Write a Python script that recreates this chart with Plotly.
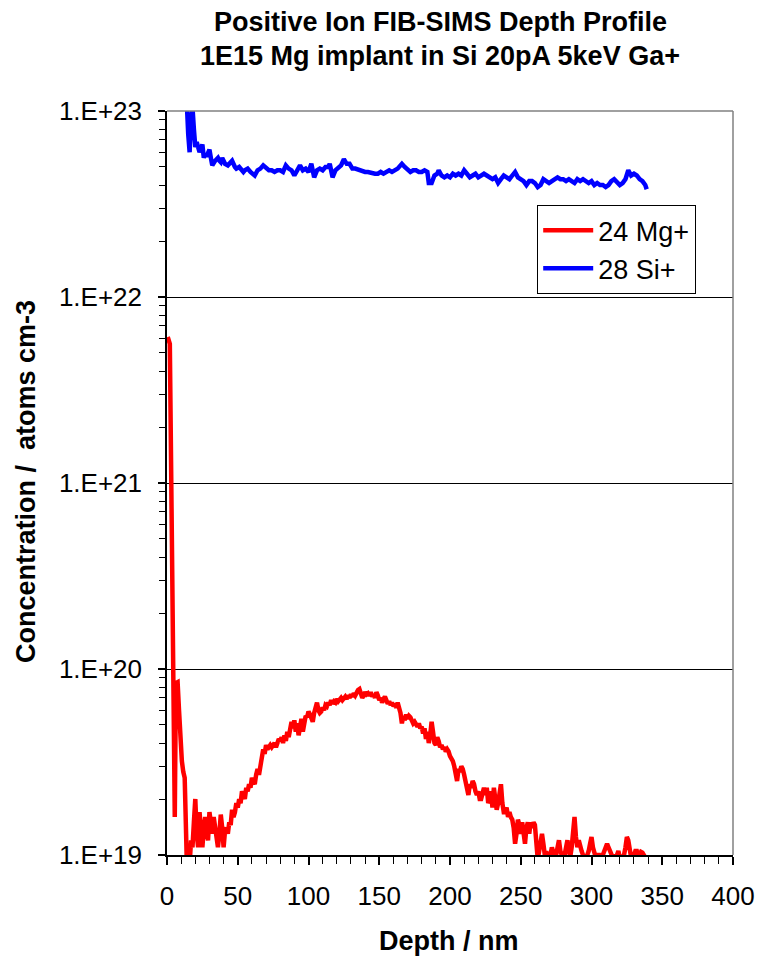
import plotly.graph_objects as go

# ---------------- data ----------------
depth_mg = [0.5, 2, 3, 4, 5, 5.5, 6.3, 7.5, 8.5, 9.5, 10.5, 11.5, 12.5, 13.5, 14,
            15, 16, 17, 18, 19, 20, 21, 22, 23, 24, 25, 26, 27, 28, 29, 30, 31, 32, 33, 34,
            35, 36, 37, 38, 39, 40, 41, 42, 43, 44, 45, 46, 47, 48, 49, 50, 51, 52, 53, 54,
            55, 56, 57, 58, 59, 60, 61, 62, 63, 64, 65, 66, 67, 68, 69, 70, 71, 72, 73, 74,
            75, 76, 77, 78, 79, 80, 81, 82, 83, 84, 85, 86, 87, 88, 89, 90, 91, 92, 93, 94,
            95, 96, 97, 98, 99, 100, 101, 102, 103, 104, 105, 106, 107, 108, 109, 110, 111, 112, 113, 114,
            115, 116, 117, 118, 119, 120, 121, 122, 123, 124, 125, 126, 127, 128, 129, 130, 131, 132, 133, 134,
            135, 136, 137, 138, 139, 140, 141, 142, 143, 144, 145, 146, 147, 148, 149, 150, 151, 152, 153, 154,
            155, 156, 157, 158, 159, 160, 161, 162, 163, 164, 165, 166, 167, 168, 169, 170, 171, 172, 173, 174,
            175, 176, 177, 178, 179, 180, 181, 182, 183, 184, 185, 186, 187, 188, 189, 190, 191, 192, 193, 194,
            195, 196, 197, 198, 199, 200, 201, 202, 203, 204, 205, 206, 207, 208, 209, 210, 211, 212, 213, 214,
            215, 216, 217, 218, 219, 220, 221, 222, 223, 224, 225, 226, 227, 228, 229, 230, 231, 232, 233, 234,
            235, 236, 237, 238, 239, 240, 241, 242, 243, 244, 245, 246, 247, 248, 249, 250, 251, 252, 253, 254,
            255, 256, 257, 258, 259, 260, 261, 262, 263, 264, 265, 266, 267, 268, 269, 270, 271, 272, 273, 274,
            275, 276, 277, 278, 279, 280, 281, 282, 283, 284, 285, 286, 287, 288, 289, 290, 291, 292, 293, 294,
            295, 296, 297, 298, 299, 300, 301, 302, 303, 304, 305, 306, 307, 308, 309, 310, 311, 312, 313, 314,
            315, 316, 317, 318, 319, 320, 321, 322, 323, 324, 325, 326, 327, 328, 329, 330, 331, 332, 333, 334,
            335, 336, 337, 338]

conc_mg = [6.1e21, 5.6e21, 1.05e21, 2.0e20, 3.7e19, 1.6e19, 8.4e19, 8.5e19, 6.0e19, 4.0e19, 3.2e19, 2.8e19, 2.6e19, 1.3e19, 0.9e19,
           1.1e19, 0.9e19, 1.2e19, 1.1e19, 1.5e19, 2.0e19, 1.3e19, 1.1e19, 1.7e19, 1.3e19, 1.1e19, 1.4e19, 1.6e19, 1.3e19, 1.2e19, 1.7e19, 1.4e19, 1.3e19, 1.6e19, 1.4e19,
           1.15e19, 1.1e19, 1.3e19, 1.65e19, 1.4e19, 1.1e19, 1.35e19, 1.4e19, 1.3e19, 1.5e19, 1.45e19, 1.75e19, 1.6e19, 1.7e19, 1.9e19, 1.8e19, 2.0e19, 1.9e19, 2.2e19, 2.1e19,
           2.0e19, 2.3e19, 2.2e19, 2.4e19, 2.3e19, 2.6e19, 2.5e19, 2.4e19, 2.7e19, 2.9e19, 2.7e19, 3.1e19, 3.3e19, 3.7e19, 3.5e19, 3.9e19, 3.7e19, 3.8e19, 3.9e19, 3.8e19,
           3.9e19, 4.0e19, 3.8e19, 4.0e19, 4.2e19, 4.1e19, 4.3e19, 4.0e19, 4.4e19, 4.1e19, 4.6e19, 4.3e19, 4.9e19, 5.2e19, 4.8e19, 5.3e19, 4.6e19, 5.1e19, 4.4e19, 5.0e19,
           5.4e19, 4.6e19, 5.3e19, 5.6e19, 5.5e19, 5.9e19, 5.7e19, 5.5e19, 5.2e19, 5.8e19, 6.1e19, 6.6e19, 6.0e19, 5.8e19, 5.9e19, 6.2e19, 6.0e19, 6.4e19, 6.3e19, 6.6e19,
           6.4e19, 6.8e19, 6.5e19, 6.7e19, 6.6e19, 6.9e19, 6.7e19, 6.8e19, 7.0e19, 6.8e19, 7.0e19, 7.1e19, 6.9e19, 7.2e19, 7.0e19, 7.3e19, 7.1e19, 7.4e19, 7.2e19, 7.5e19,
           7.7e19, 7.8e19, 7.3e19, 7.0e19, 7.2e19, 7.5e19, 7.3e19, 7.4e19, 7.2e19, 7.5e19, 7.1e19, 7.3e19, 7.0e19, 7.5e19, 7.2e19, 6.8e19, 7.0e19, 6.6e19, 6.9e19, 7.1e19,
           6.8e19, 6.5e19, 6.7e19, 6.4e19, 6.6e19, 6.3e19, 6.5e19, 6.2e19, 6.6e19, 6.3e19, 5.8e19, 5.1e19, 5.6e19, 5.3e19, 5.7e19, 5.4e19, 5.6e19, 5.5e19, 5.3e19, 5.1e19,
           5.2e19, 5.0e19, 4.9e19, 5.1e19, 4.8e19, 4.9e19, 4.5e19, 4.8e19, 4.2e19, 4.6e19, 4.0e19, 4.4e19, 5.2e19, 4.6e19, 4.0e19, 3.9e19, 4.3e19, 4.1e19, 3.8e19, 3.9e19,
           3.7e19, 3.8e19, 3.6e19, 3.7e19, 3.6e19, 3.4e19, 3.3e19, 3.2e19, 3.0e19, 2.6e19, 2.5e19, 2.9e19, 2.8e19, 3.0e19, 2.9e19, 2.7e19, 2.5e19, 2.2e19, 2.1e19, 2.4e19,
           2.3e19, 2.5e19, 2.4e19, 2.2e19, 2.1e19, 2.2e19, 2.0e19, 2.0e19, 2.2e19, 2.3e19, 2.1e19, 2.3e19, 1.9e19, 2.0e19, 2.2e19, 1.8e19, 2.3e19, 1.9e19, 1.75e19, 1.9e19,
           2.1e19, 2.4e19, 1.9e19, 1.7e19, 1.7e19, 1.8e19, 1.6e19, 1.7e19, 1.6e19, 1.55e19, 1.4e19, 1.15e19, 1.3e19, 1.55e19, 1.45e19, 1.3e19, 1.5e19, 1.35e19, 1.15e19, 1.4e19,
           1.5e19, 1.3e19, 1.5e19, 1.4e19, 1.5e19, 1.45e19, 1.2e19, 0.95e19, 1.05e19, 1.2e19, 1.3e19, 1.15e19, 1.0e19, 1.05e19, 0.95e19, 0.98e19, 1.0e19, 1.1e19, 1.05e19, 0.97e19,
           1.0e19, 1.15e19, 1.2e19, 1.05e19, 0.97e19, 0.95e19, 1.0e19, 1.15e19, 1.2e19, 1.05e19, 0.98e19, 1.1e19, 1.3e19, 1.6e19, 1.25e19, 1.1e19, 1.2e19, 1.1e19, 1.05e19, 1.0e19,
           0.97e19, 0.95e19, 1.0e19, 1.05e19, 1.15e19, 1.25e19, 1.1e19, 1.0e19, 0.97e19, 0.98e19, 1.02e19, 0.97e19, 0.95e19, 1.0e19, 1.05e19, 1.1e19, 1.15e19, 1.1e19, 1.05e19, 1.0e19,
           0.97e19, 1.0e19, 0.96e19, 1.0e19, 1.05e19, 0.97e19, 1.0e19, 0.95e19, 1.0e19, 1.1e19, 1.25e19, 1.2e19, 1.05e19, 0.97e19, 0.95e19, 1.0e19, 1.05e19, 1.05e19, 0.98e19, 1.0e19,
           1.04e19, 1.03e19, 1.0e19, 0.97e19]

depth_si = [12.5, 14, 15, 16, 17, 18, 19, 20, 21, 22, 23, 24, 25, 26, 27, 28, 30, 31, 32, 34,
            36, 37, 38, 39, 41, 43, 45, 46, 48, 49, 51, 53, 54, 55, 57, 59, 60, 62, 64, 66,
            68, 70, 72, 74, 76, 78, 80, 82, 84, 86, 88, 90, 92, 94, 96, 98, 100, 102, 104, 106,
            108, 110, 112, 114, 115, 117, 119, 121, 123, 125, 127, 129, 131, 133, 136, 138, 140, 142, 145, 147,
            149, 151, 153, 155, 157, 159, 161, 163, 165, 166, 168, 170, 172, 174, 176, 178, 180, 182, 184, 185,
            187, 189, 191, 192, 194, 196, 198, 200, 202, 204, 206, 208, 210, 212, 214, 216, 218, 220, 222, 224,
            226, 228, 230, 232, 234, 236, 238, 240, 242, 244, 246, 248, 250, 252, 254, 256, 258, 260, 262, 264,
            266, 268, 270, 272, 274, 276, 278, 280, 282, 284, 286, 288, 290, 292, 294, 296, 298, 300, 302, 304,
            306, 308, 310, 312, 314, 316, 318, 320, 322, 324, 326, 328, 330, 332, 334, 336, 338, 339]

conc_si = [1.2e23, 1.1e23, 7.5e22, 6.0e22, 9.0e22, 1.05e23, 8.0e22, 6.4e22, 6.8e22, 6.2e22, 6.0e22, 6.3e22, 6.6e22, 5.6e22, 5.9e22, 5.7e22, 6.2e22, 5.6e22, 5.1e22, 5.4e22,
           5.6e22, 5.4e22, 5.3e22, 5.6e22, 5.2e22, 5.1e22, 5.3e22, 5.4e22, 5.0e22, 4.9e22, 5.0e22, 4.8e22, 4.7e22, 4.8e22, 4.9e22, 4.7e22, 4.6e22, 4.5e22, 4.8e22, 4.9e22,
           5.1e22, 4.9e22, 4.8e22, 4.8e22, 4.7e22, 4.8e22, 4.8e22, 4.7e22, 5.1e22, 4.9e22, 4.8e22, 4.5e22, 4.8e22, 5.1e22, 4.8e22, 4.9e22, 4.7e22, 5.2e22, 4.4e22, 4.8e22,
           4.9e22, 4.8e22, 5.0e22, 5.0e22, 5.2e22, 4.4e22, 4.8e22, 5.0e22, 5.1e22, 5.5e22, 5.2e22, 5.2e22, 4.9e22, 4.9e22, 4.8e22, 4.8e22, 4.7e22, 4.7e22, 4.6e22, 4.6e22,
           4.6e22, 4.7e22, 4.6e22, 4.7e22, 4.8e22, 4.7e22, 4.8e22, 4.9e22, 5.1e22, 5.2e22, 5.0e22, 4.8e22, 4.7e22, 4.8e22, 4.8e22, 4.7e22, 4.7e22, 4.8e22, 4.7e22, 4.1e22,
           4.1e22, 4.5e22, 4.6e22, 4.8e22, 4.5e22, 4.4e22, 4.5e22, 4.4e22, 4.6e22, 4.5e22, 4.6e22, 4.5e22, 4.8e22, 4.6e22, 4.4e22, 4.5e22, 4.6e22, 4.4e22, 4.5e22, 4.6e22,
           4.5e22, 4.4e22, 4.3e22, 4.4e22, 4.1e22, 4.3e22, 4.5e22, 4.4e22, 4.3e22, 4.5e22, 4.7e22, 4.4e22, 4.3e22, 4.2e22, 4.0e22, 4.2e22, 4.2e22, 4.1e22, 3.9e22, 4.0e22,
           4.3e22, 4.2e22, 4.1e22, 4.2e22, 4.3e22, 4.4e22, 4.3e22, 4.3e22, 4.2e22, 4.3e22, 4.2e22, 4.1e22, 4.3e22, 4.2e22, 4.3e22, 4.2e22, 4.1e22, 4.2e22, 4.0e22, 4.1e22,
           4.0e22, 4.0e22, 3.9e22, 4.0e22, 4.2e22, 4.3e22, 4.1e22, 4.0e22, 4.1e22, 4.3e22, 4.8e22, 4.5e22, 4.6e22, 4.5e22, 4.3e22, 4.2e22, 4.0e22, 3.8e22]

x_tick_vals = [0, 50, 100, 150, 200, 250, 300, 350, 400]
y_tick_vals = [1e19, 1e20, 1e21, 1e22, 1e23]
y_tick_text = ["1.E+19", "1.E+20", "1.E+21", "1.E+22", "1.E+23"]
y_minor_vals = [m * 10.0 ** e for e in range(19, 23) for m in range(2, 10)]

title_line1 = "Positive Ion FIB-SIMS Depth Profile"
title_line2 = "1E15 Mg implant in Si 20pA 5keV Ga+"
x_title = "Depth / nm"
y_title = "Concentration /\u00a0 atoms cm-3"

FONT = "Liberation Sans, Arial, sans-serif"
TICK_SIZE = 26
TITLE_SIZE = 27

fig = go.Figure()
fig.add_trace(go.Scatter(x=depth_mg, y=conc_mg, mode="lines", name="24 Mg+",
                         line=dict(color="#ff0000", width=4.5), legendgroup="a"))
fig.add_trace(go.Scatter(x=depth_si, y=conc_si, mode="lines", name="28 Si+",
                         line=dict(color="#0000ff", width=4.5), legendgroup="b"))

# the page body margin is removed in post_script, so figure pixels == page pixels
FIG_W, FIG_H = 759, 956
PLOT_L, PLOT_T, PLOT_W, PLOT_H = 167, 111, 566, 744


def px_x(page_x):
    return (page_x - PLOT_L) / PLOT_W


def px_y(page_y):
    return (PLOT_T + PLOT_H - page_y) / PLOT_H


annotations = [
    dict(text="<b>%s</b>" % title_line1, x=px_x(440), y=px_y(22), xref="paper", yref="paper",
         xanchor="center", yanchor="middle", showarrow=False,
         font=dict(family=FONT, size=TITLE_SIZE, color="black")),
    dict(text="<b>%s</b>" % title_line2, x=px_x(440), y=px_y(56), xref="paper", yref="paper",
         xanchor="center", yanchor="middle", showarrow=False,
         font=dict(family=FONT, size=TITLE_SIZE, color="black")),
    dict(text="<b>%s</b>" % x_title, x=px_x(449), y=px_y(941), xref="paper", yref="paper",
         xanchor="center", yanchor="middle", showarrow=False,
         font=dict(family=FONT, size=TITLE_SIZE, color="black")),
    dict(text="<b>%s</b>" % y_title, x=px_x(26), y=px_y(482), xref="paper", yref="paper",
         xanchor="center", yanchor="middle", showarrow=False, textangle=-90,
         font=dict(family=FONT, size=TITLE_SIZE, color="black")),
]

fig.update_layout(
    width=FIG_W, height=FIG_H,
    margin=dict(l=PLOT_L, r=FIG_W - PLOT_L - PLOT_W, t=PLOT_T, b=FIG_H - PLOT_T - PLOT_H),
    paper_bgcolor="white", plot_bgcolor="white",
    font=dict(family=FONT, color="black", size=TICK_SIZE),
    showlegend=True,
    legend=dict(x=px_x(537), xanchor="left", y=px_y(205), yanchor="top",
                bgcolor="white", bordercolor="black", borderwidth=1.2,
                font=dict(family=FONT, size=27, color="black"),
                tracegroupgap=0, itemwidth=50),
    xaxis=dict(range=[0, 400], tickmode="array", tickvals=x_tick_vals, automargin=False,
               showline=True, linecolor="black", linewidth=1.5,
               ticks="outside", ticklen=8, tickwidth=1.5, tickcolor="black",
               minor=dict(dtick=10, ticks="outside", ticklen=7, tickwidth=1.2, tickcolor="black", showgrid=False),
               showgrid=False, zeroline=False, ticklabelstandoff=9,
               tickfont=dict(family=FONT, size=TICK_SIZE, color="black")),
    yaxis=dict(type="log", range=[19, 23], tickmode="array", tickvals=y_tick_vals, ticktext=y_tick_text,
               automargin=False,
               showline=True, linecolor="black", linewidth=1.5,
               ticks="outside", ticklen=7, tickwidth=1.5, tickcolor="black",
               minor=dict(tickmode="array", tickvals=y_minor_vals, ticks="outside", ticklen=6,
                          tickwidth=1.2, tickcolor="black", showgrid=False),
               showgrid=True, gridcolor="black", gridwidth=1.2, zeroline=False, ticklabelstandoff=11,
               tickfont=dict(family=FONT, size=TICK_SIZE, color="black")),
    annotations=annotations,
    shapes=[
        dict(type="line", xref="paper", yref="paper", x0=0, x1=1, y0=1, y1=1,
             line=dict(color="#808080", width=1.5), layer="above"),
        dict(type="line", xref="paper", yref="paper", x0=1, x1=1, y0=0, y1=1,
             line=dict(color="#808080", width=1.5), layer="above"),
    ],
)

fig.write_html(
    "out.html",
    config={"displayModeBar": False},
    post_script="document.body.style.margin='0';document.body.style.overflow='hidden';"
                "document.documentElement.style.overflow='hidden';",
)
